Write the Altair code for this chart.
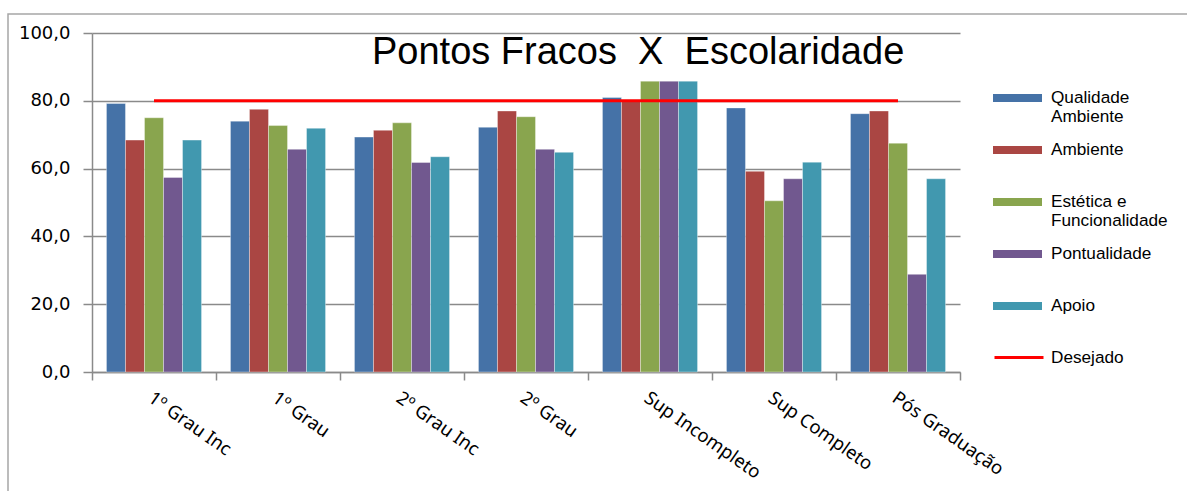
import altair as alt
import pandas as pd

# Education levels (x axis) and the five evaluated aspects
categories = ["1º Grau Inc", "1º Grau", "2º Grau Inc", "2º Grau",
              "Sup Incompleto", "Sup Completo", "Pós Graduação"]
series = ["Qualidade Ambiente", "Ambiente", "Estética e Funcionalidade",
          "Pontualidade", "Apoio"]

qualidade_ambiente = [79.2, 74.0, 69.3, 72.2, 81.0, 77.9, 76.2]
ambiente = [68.4, 77.5, 71.3, 77.0, 80.2, 59.2, 77.0]
estetica_funcionalidade = [75.0, 72.7, 73.5, 75.3, 85.8, 50.5, 67.5]
pontualidade = [57.4, 65.7, 61.8, 65.7, 85.8, 57.0, 28.8]
apoio = [68.4, 71.9, 63.5, 64.8, 85.8, 61.9, 57.0]

# Target level drawn as a red line across the groups
target_name = "Desejado"
desejado = [80.0, 80.0, 80.0, 80.0, 80.0, 80.0, 80.0]

y_ticks = [0, 20, 40, 60, 80, 100]
bar_colors = ["#4572A7", "#AA4643", "#89A54E", "#71588F", "#4198AF"]
target_color = "#FF0000"

values_by_series = [qualidade_ambiente, ambiente, estetica_funcionalidade,
                    pontualidade, apoio]
bars_df = pd.DataFrame(
    [{"Escolaridade": c, "Serie": s, "Valor": v}
     for s, vals in zip(series, values_by_series)
     for c, v in zip(categories, vals)]
)
line_df = pd.DataFrame(
    {"Escolaridade": categories, "Serie": target_name, "Valor": desejado}
)

AXIS_GRAY = "#8a8a8a"
BAR_SHAPE = "M-1,-0.163H1V0.163H-1Z"
LINE_SHAPE = "M-1,0H1"

legend_common = dict(
    title=None,
    orient="none",
    legendX=901,
    padding=0,
    symbolSize=2401,
    labelFont="Liberation Sans",
    labelFontSize=17.2,
    labelColor="#000000",
    labelLimit=400,
)

# every entry gets two text lines so all rows share one height
bar_legend = alt.Legend(
    legendY=40.5,
    symbolType=BAR_SHAPE,
    symbolStrokeWidth=0,
    symbolOpacity=1,
    rowPadding=0,
    labelOffset=9,
    labelExpr=(
        "datum.label == 'Qualidade Ambiente' ? ['Qualidade', 'Ambiente'] : "
        "datum.label == 'Estética e Funcionalidade' ? ['Estética e', 'Funcionalidade'] : "
        "[datum.label, '']"
    ),
    **legend_common,
)

line_legend = alt.Legend(
    legendY=298.5,
    symbolType=LINE_SHAPE,
    symbolStrokeWidth=3,
    labelOffset=6,
    **legend_common,
)

x_axis = alt.Axis(
    title=None,
    tickBand="extent",
    grid=False,
    domainColor=AXIS_GRAY,
    domainWidth=1.5,
    tickColor=AXIS_GRAY,
    tickWidth=1.5,
    tickSize=8,
    labelAngle=35,
    labelAlign="left",
    labelBaseline="top",
    labelFont="Noto Sans",
    labelFontSize=18.5,
    labelColor="#000000",
    labelPadding=8,
    labelOffset=1,
    labelLimit=300,
)

y_axis = alt.Axis(
    title=None,
    values=y_ticks,
    labelExpr="replace(format(datum.value, '.1f'), '.', ',')",
    labelFont="DejaVu Sans",
    labelFontSize=18,
    labelColor="#000000",
    labelPadding=13,
    tickSize=9,
    tickColor=AXIS_GRAY,
    tickWidth=1.5,
    domainColor=AXIS_GRAY,
    domainWidth=1.5,
    grid=True,
    gridColor=AXIS_GRAY,
    gridWidth=1.5,
)

frame = alt.Chart(pd.DataFrame({"frame": [1]})).mark_rect(
    filled=False, stroke="#a6a6a6", strokeWidth=1.5
).encode(
    x=alt.value(-84), x2=alt.value(1110),
    y=alt.value(-19), y2=alt.value(470),
)

bars = alt.Chart(bars_df).mark_bar(
    stroke="#ffffff", strokeWidth=0.6, strokeOpacity=0.6
).encode(
    x=alt.X("Escolaridade:N", sort=categories,
            scale=alt.Scale(paddingInner=0, paddingOuter=0), axis=x_axis),
    xOffset=alt.XOffset("Serie:N", sort=series,
                        scale=alt.Scale(paddingInner=0, paddingOuter=0.76)),
    y=alt.Y("Valor:Q", scale=alt.Scale(domain=[0, 100]), axis=y_axis),
    color=alt.Color("Serie:N", sort=series,
                    scale=alt.Scale(domain=series, range=bar_colors),
                    legend=bar_legend),
)

target = alt.Chart(line_df).mark_line(strokeWidth=3).encode(
    x=alt.X("Escolaridade:N", sort=categories),
    y=alt.Y("Valor:Q"),
    stroke=alt.Stroke("Serie:N",
                      scale=alt.Scale(domain=[target_name], range=[target_color]),
                      legend=line_legend),
)

chart = alt.layer(frame, bars, target).properties(
    width=868,
    height=339,
    title=alt.TitleParams(
        text="Pontos Fracos\u00a0 X\u00a0 Escolaridade",
        font="Liberation Sans",
        fontSize=38,
        fontWeight="normal",
        color="#000000",
        anchor="start",
        frame="group",
        orient="top",
        baseline="alphabetic",
        offset=0,
        dx=280,
        dy=89,
    ),
    autosize=alt.AutoSizeParams(type="none"),
    padding={"left": 92, "top": 33, "right": 227, "bottom": 119},
    background="#ffffff",
).resolve_scale(color="independent").configure_view(stroke=None)

chart.save("out.html", embed_options={"renderer": "svg", "actions": False})
